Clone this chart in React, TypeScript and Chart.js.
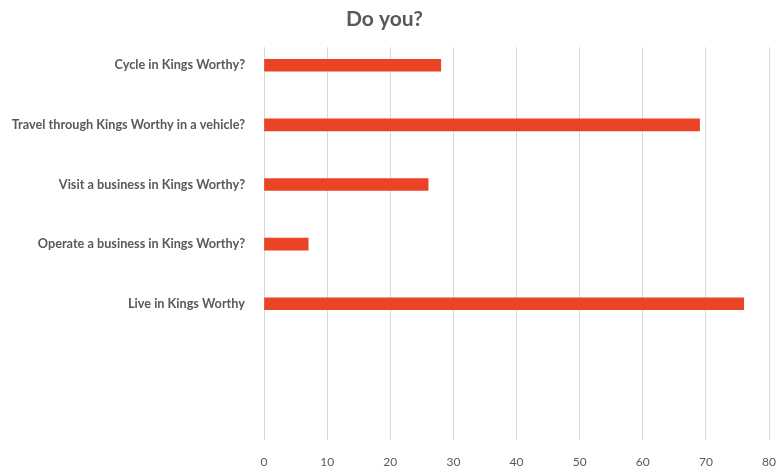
import React, { useEffect, useRef } from "react";
import { Chart, registerables } from "chart.js";

Chart.register(...registerables);

const categories = [
  "Cycle in Kings Worthy?",
  "Travel through Kings Worthy in a vehicle?",
  "Visit a business in Kings Worthy?",
  "Operate a business in Kings Worthy?",
  "Live in Kings Worthy",
];
const values = [28, 69, 26, 7, 76];
const xTicks = [0, 10, 20, 30, 40, 50, 60, 70, 80];
const title = "Do you?";

export default function App() {
  const ref = useRef<HTMLCanvasElement | null>(null);
  useEffect(() => {
    if (!ref.current) return;
    const grey = "#595959";
    const chart = new Chart(ref.current, {
      type: "bar",
      data: {
        datasets: [
          {
            data: values.map((v, i) => ({ x: v, y: i })),
            backgroundColor: "#EA4325",
            borderWidth: 0,
            barThickness: 12,
          },
        ],
      },
      options: {
        indexAxis: "y",
        animation: false,
        responsive: false,
        layout: { padding: { left: 0, right: 10, top: 0, bottom: 2 } },
        plugins: {
          legend: { display: false },
          tooltip: { enabled: false },
          title: {
            display: true,
            text: title,
            color: grey,
            font: { family: "Lato, 'Open Sans', sans-serif", size: 21, weight: "bold" },
            padding: { top: 7, bottom: 15 },
          },
        },
        scales: {
          x: {
            type: "linear",
            min: 0,
            max: 80,
            afterBuildTicks: (scale: any) => {
              scale.ticks = xTicks.map((v) => ({ value: v }));
            },
            afterFit: (scale: any) => {
              scale.height = 31;
              scale.paddingLeft = 0;
              scale.paddingRight = 0;
            },
            grid: { color: "#d9d9d9", drawTicks: false, lineWidth: 1 },
            border: { display: false },
            ticks: {
              color: grey,
              padding: 15,
              maxRotation: 0,
              font: { family: "Lato, 'Open Sans', sans-serif", size: 12 },
            },
          },
          y: {
            type: "linear",
            reverse: true,
            offset: false,
            min: -0.3025,
            max: 6.286,
            afterBuildTicks: (scale: any) => {
              scale.ticks = categories.map((_, i) => ({ value: i }));
            },
            afterFit: (scale: any) => {
              scale.width = 264;
              scale.paddingTop = 0;
              scale.paddingBottom = 0;
            },
            grid: { display: false, offset: false },
            border: { display: false },
            ticks: {
              color: grey,
              padding: 11,
              autoSkip: false,
              font: { family: "Lato, 'Open Sans', sans-serif", size: 12.7, weight: "bold" },
              callback: (v: any) => categories[v] ?? "",
            },
          },
        },
      },
    } as any);
    return () => chart.destroy();
  }, []);
  return (
    <div style={{ position: "fixed", left: 0, top: 0, width: 779, height: 473, background: "#fff" }}>
      <canvas ref={ref} width={779} height={473} style={{ display: "block" }} />
    </div>
  );
}
